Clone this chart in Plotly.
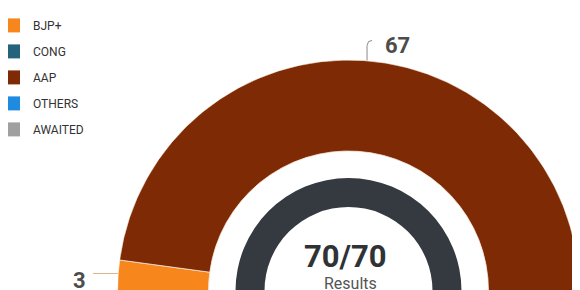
import math
import plotly.graph_objects as go

# ---------------- data ----------------
parties = ["BJP+", "CONG", "AAP", "OTHERS", "AWAITED"]
seats = [3, 0, 67, 0, 0]
colors = ["#F7861C", "#25637C", "#7D2A05", "#1E8BE0", "#A0A0A0"]
total_seats = 70
declared = 70
center_title = "70/70"
center_sub = "Results"

# ---------------- geometry (layout, px) ----------------
W, H = 580, 290
OX, OY = 8, 8             # page offset of the figure (body margin)
CX, CY = 348.5 - OX, 291 - OY
R_OUT, R_IN = 231, 140
G_OUT, G_IN = 113, 84

fig = go.Figure()

# party arcs (half donut, starting at the left)
cum = 0
mids = []
for name, v, c in zip(parties, seats, colors):
    width = v * 180.0 / total_seats
    start = 180.0 - cum * 180.0 / total_seats
    mid = start - width / 2
    mids.append(mid)
    cum += v
    fig.add_trace(go.Barpolar(
        name=name, theta=[mid], width=[width],
        r=[R_OUT - R_IN] if v > 0 else [0], base=[R_IN],
        marker=dict(color=c, line=dict(color="#fbe9d8", width=0.8 if v > 0 else 0)),
        legendgroup=name, showlegend=False, hoverinfo="name",
    ))
    # legend entry (square swatch)
    fig.add_trace(go.Scatter(
        name=name, x=[None], y=[None], mode="markers",
        marker=dict(symbol="square", size=14, color=c),
        legendgroup=name, showlegend=True, xaxis="x", yaxis="y",
    ))

# declared ring
dw = declared * 180.0 / total_seats
fig.add_trace(go.Barpolar(
    theta=[180 - dw / 2], width=[dw], r=[G_OUT - G_IN], base=[G_IN],
    marker=dict(color="#343A3F", line=dict(width=0)), showlegend=False, hoverinfo="skip",
))

# connectors + labels for non-zero parties
annotations = []
for name, v, c, mid in zip(parties, seats, colors, mids):
    if v <= 0:
        continue
    a = math.radians(mid)
    ex = CX + R_OUT * math.cos(a)
    ey = CY - R_OUT * math.sin(a)
    if 45 < mid < 135:
        ex += 3
        xs = [ex, ex, ex + 1.5, ex + 5]
        ys = [ey, ey - 15, ey - 19, ey - 20]
        lx, ly, xa = ex + 16, ey - 15, "left"
        lc = "#8a8a8a"
    else:
        xs = [ex, ex - 25]
        ys = [ey - 2, ey - 2]
        lx, ly, xa = ex - 30, ey + 5.5, "right"
        lc = "#d8b48c"
    fig.add_trace(go.Scatter(x=xs, y=ys, mode="lines", line=dict(color=lc, width=1),
                             showlegend=False, hoverinfo="skip", xaxis="x", yaxis="y"))
    annotations.append(dict(x=lx, y=ly, xref="x", yref="y", text="<b>%d</b>" % v,
                            showarrow=False, xanchor=xa, yanchor="middle",
                            font=dict(family="Roboto", size=22, color="#4d4d4d")))

annotations.append(dict(x=345 - OX, y=256 - OY, xref="x", yref="y", text="<b>%s</b>" % center_title,
                        showarrow=False, xanchor="center", yanchor="middle",
                        font=dict(family="Roboto", size=31, color="#2f3336")))
annotations.append(dict(x=350 - OX, y=283 - OY, xref="x", yref="y", text=center_sub,
                        showarrow=False, xanchor="center", yanchor="middle",
                        font=dict(family="Roboto", size=16, color="#555555")))

fig.update_layout(
    width=W, height=H, margin=dict(l=0, r=0, t=0, b=0, autoexpand=False),
    paper_bgcolor="white", plot_bgcolor="rgba(0,0,0,0)",
    polar=dict(
        domain=dict(x=[(CX - R_OUT) / W, (CX + R_OUT) / W], y=[(H - CY) / H, (H - CY + R_OUT) / H]),
        sector=[0, 180], bgcolor="rgba(0,0,0,0)",
        radialaxis=dict(visible=False, range=[0, R_OUT], showgrid=False),
        angularaxis=dict(visible=False, showgrid=False, rotation=0, direction="counterclockwise"),
        bargap=0,
    ),
    xaxis=dict(range=[0, W], visible=False, domain=[0, 1], fixedrange=True),
    yaxis=dict(range=[H, 0], visible=False, domain=[0, 1], fixedrange=True),
    showlegend=True,
    legend=dict(x=-15 / W, y=0.99, xanchor="left", yanchor="top", tracegroupgap=7,
                font=dict(family="Roboto", size=12, color="#333333"), bgcolor="rgba(0,0,0,0)"),
    annotations=annotations,
)

fig.write_html("out.html")
